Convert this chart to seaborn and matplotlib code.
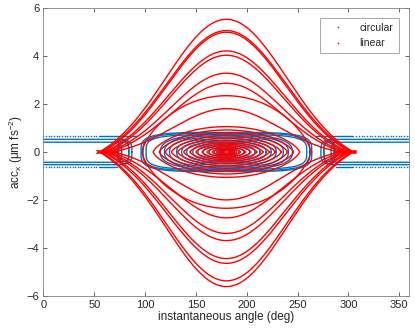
import numpy as np
import pandas as pd
import matplotlib
matplotlib.use("Agg")
import matplotlib.pyplot as plt
import seaborn as sns
from matplotlib.lines import Line2D

# ---------------- data ----------------
# "linear" (red): outer cusp-shaped loops (left tip angle, top / bottom extreme)
red_cusp_tip = [55, 56, 58, 60, 62, 64, 66, 69]
red_cusp_top = [5.54, 5.07, 5.00, 4.22, 4.04, 3.29, 2.87, 1.81]
red_cusp_bot = [-5.62, -5.38, -4.65, -4.45, -3.70, -3.40, -2.75, -2.00]
# "linear" (red): inner oval loops (left edge angle, top extreme)
red_oval_left = [97, 108, 114, 120, 126, 132, 138, 144, 150, 156, 161, 166, 170, 173, 176]
red_oval_top = [2.35, 1.06, 0.92, 0.80, 0.68, 0.58, 0.48, 0.40, 0.33, 0.27, 0.21, 0.16, 0.12, 0.08, 0.05]

# "circular" (blue): open bands at the left/right ends (top y, bottom y, turning angle)
blue_band_top = [0.53, 0.41]
blue_band_bot = [-0.53, -0.43]
blue_band_turn = [84, 77]
# sparse dotted branches (y level, last angle)
blue_dot_y = [0.67, -0.64]
blue_dot_end = [92, 72]
# small loops near 80 deg (centre, half width, half height)
blue_small_c = [80, 79]
blue_small_hw = [7, 5]
blue_small_hh = [0.48, 0.40]
# central rounded loops (left edge angle, half height)
blue_stad_left = [96, 98, 101, 115, 119, 124, 131, 136, 141, 147, 152, 157, 163, 168, 172, 175]
blue_stad_hh = [0.82, 0.78, 0.72, 0.74, 0.68, 0.62, 0.55, 0.48, 0.42, 0.36, 0.30, 0.24, 0.17, 0.12, 0.08, 0.05]

CENTER = 180.0


def superellipse(cx, cy, a, b, n, t):
    c, s = np.cos(t), np.sin(t)
    x = cx + a * np.sign(c) * np.abs(c) ** (2.0 / n)
    y = cy + b * np.sign(s) * np.abs(s) ** (2.0 / n)
    return x, y


rows = []
loop_id = 0


def add(series, xs, ys):
    global loop_id
    for x, y in zip(xs, ys):
        rows.append((series, loop_id, x, y))
    loop_id += 1


# ---- blue loops ----
t = np.linspace(0, 2 * np.pi, 400)
for left, hh in zip(blue_stad_left, blue_stad_hh):
    a = CENTER - left
    n = 4.0 if a > 70 else 2.6
    x, y = superellipse(CENTER, 0.0, a, hh, n, t)
    add("circular", x, y)

for c, hw, hh in zip(blue_small_c, blue_small_hw, blue_small_hh):
    for side in (1, -1):
        cx = c if side == 1 else 360 - c
        x, y = superellipse(cx, 0.0, hw, hh, 3.0, t)
        add("circular", x, y)

for top, bot, turn in zip(blue_band_top, blue_band_bot, blue_band_turn):
    r = 7.0
    m = (top + bot) / 2
    b = (top - bot) / 2
    tt = np.linspace(np.pi / 2, -np.pi / 2, 120)
    ex, ey = superellipse(turn - r, m, r, b, 3.0, tt)
    xs = np.concatenate([np.linspace(0, turn - r, 60), ex, np.linspace(turn - r, 0, 60)])
    ys = np.concatenate([np.full(60, top), ey, np.full(60, bot)])
    add("circular", xs, ys)
    add("circular", 360 - xs, ys)

for yv, end in zip(blue_dot_y, blue_dot_end):
    xs = np.linspace(55, end, 40)
    add("circular", xs, np.full_like(xs, yv))
    add("circular", 360 - xs, np.full_like(xs, yv))

# ---- red loops ----
k = 2.2
u = np.linspace(-1.02, 1.02, 300)
prof = (np.exp(-k * u ** 2) - np.exp(-k)) / (1 - np.exp(-k))
for tip, top, bot in zip(red_cusp_tip, red_cusp_top, red_cusp_bot):
    half = CENTER - tip
    xs = np.concatenate([CENTER + half * u, CENTER - half * u])
    ys = np.concatenate([top * prof, -bot * -prof])
    add("linear", xs, ys)

for left, top in zip(red_oval_left, red_oval_top):
    half = CENTER - left
    x, y = superellipse(CENTER, 0.0, half, top, 2.0, t)
    # slightly lemon shaped
    y = np.sign(y) * top * (1 - ((x - CENTER) / half) ** 2).clip(0) ** 0.7
    add("linear", x, y)

df = pd.DataFrame(rows, columns=["series", "loop", "angle", "acc"])

dot_x = np.arange(0, 54, 2.6)
dots = pd.DataFrame({
    "angle": np.concatenate([dot_x, dot_x, 360 - dot_x, 360 - dot_x]),
    "acc": np.concatenate([np.full_like(dot_x, blue_dot_y[0]), np.full_like(dot_x, blue_dot_y[1]),
                           np.full_like(dot_x, blue_dot_y[0]), np.full_like(dot_x, blue_dot_y[1])]),
})

# ---------------- plotting ----------------
sns.set_theme(style="ticks")
plt.rcParams["font.family"] = ["Liberation Sans", "DejaVu Sans"]
plt.rcParams["mathtext.fontset"] = "custom"
plt.rcParams["mathtext.rm"] = "Liberation Sans"
plt.rcParams["mathtext.it"] = "Liberation Sans:italic"

BLUE = "#0072BD"
RED = "#FF0000"

fig = plt.figure(figsize=(4.15, 3.35), dpi=100)
ax = fig.add_axes([0.1048, 0.1173, 0.8815, 0.858])

sns.lineplot(data=df[df.series == "circular"], x="angle", y="acc", units="loop",
             estimator=None, sort=False, color=BLUE, linewidth=1.0, ax=ax, legend=False)
sns.scatterplot(data=dots, x="angle", y="acc", color=BLUE, s=1.2, linewidth=0, ax=ax, legend=False)
sns.lineplot(data=df[df.series == "linear"], x="angle", y="acc", units="loop",
             estimator=None, sort=False, color=RED, linewidth=1.0, ax=ax, legend=False)

ax.set_xlim(0, 360)
ax.set_ylim(-6, 6)
ax.set_xticks(np.arange(0, 351, 50))
ax.set_yticks(np.arange(-6, 7, 2))
ax.set_xlabel("instantaneous angle (deg)", fontsize=8.5, labelpad=1)
ax.set_ylabel("acc$_{\\rm x}$ (μm fs$^{-2}$)", fontsize=8.5, labelpad=1)
ax.tick_params(direction="in", length=3, width=0.5, labelsize=8, colors="#262626",
               top=True, right=True, pad=3)
for sp in ax.spines.values():
    sp.set_visible(True)
    sp.set_linewidth(0.6)
    sp.set_color("#808080")

handles = [Line2D([], [], ls="none", marker="o", markersize=1.2, markeredgewidth=0, color=BLUE),
           Line2D([], [], ls="none", marker="o", markersize=1.2, markeredgewidth=0, color=RED)]
leg = ax.legend(handles, ["circular", "linear"], loc="upper right", fontsize=7.5,
                frameon=True, fancybox=False, edgecolor="#808080", borderpad=0.5,
                handlelength=2.5, bbox_to_anchor=(0.985, 0.985))
leg.get_frame().set_linewidth(0.6)

fig.savefig("out.png", dpi=100)
